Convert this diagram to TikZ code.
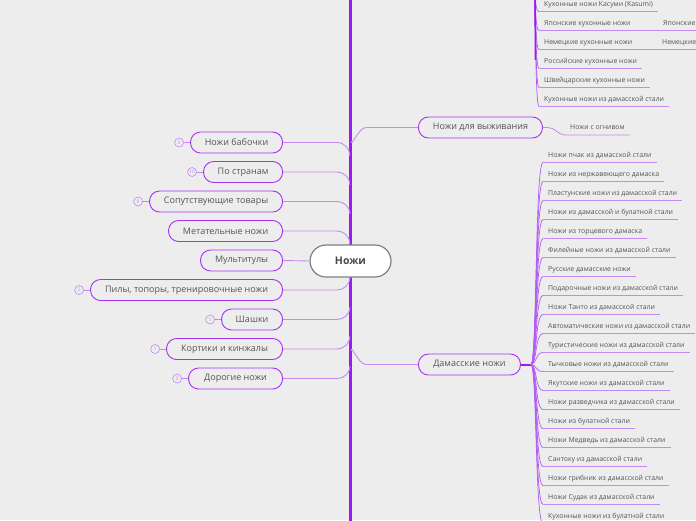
\documentclass[tikz,border=0pt]{standalone}
\usepackage{fontspec}
\setmainfont{Open Sans}
\usetikzlibrary{calc}
\definecolor{bg}{HTML}{EDEDED}
\definecolor{trunkc}{HTML}{9B1AF2}
\definecolor{nodeb}{HTML}{A532F0}
\definecolor{conn}{HTML}{C38AF2}
\definecolor{fanc}{HTML}{B05CF2}
\definecolor{txt}{HTML}{555555}
\definecolor{cgray}{HTML}{808080}
\tikzset{
  topic/.style={draw=nodeb, line width=0.9, rounded corners=10, minimum height=21, inner xsep=0, text=txt, font=\fontsize{9}{10}\selectfont, fill=bg},
  central/.style={draw=cgray, line width=1.2, fill=white, rounded corners=16, minimum width=81, minimum height=32, font=\fontsize{10.5}{12}\selectfont\bfseries, text=txt!85!black},
  item/.style={text=txt, font=\fontsize{6.9}{7.5}\selectfont, inner xsep=5, inner ysep=3.3, text depth=1.8, text height=5.2, anchor=south west},
  badge/.style={circle, draw=conn, line width=0.6, minimum size=9, inner sep=0, text=conn, font=\fontsize{5}{5}\selectfont},
  link/.style={draw=conn, line width=0.9},
  uline/.style={draw=conn, line width=0.8},
  fanline/.style={draw=fanc, line width=0.7},
  trunkline/.style={draw=trunkc, line width=3}
}
\begin{document}
\begin{tikzpicture}[x=1pt,y=-1pt]
\fill[bg] (0,0) rectangle (696,520);
\useasboundingbox (0,0) rectangle (696,520);

% trunk
\draw[trunkline] (350,-5) -- (350,525);

% central node
\node[central] (c) at (350.5,261) {Ножи};

% left topics
\node[topic, minimum width=92, anchor=east] (n1) at (283,142.5) {Ножи бабочки};
\node[topic, minimum width=79, anchor=east] (n2) at (283,172) {По странам};
\node[topic, minimum width=133, anchor=east] (n3) at (283,201.5) {Сопутствующие товары};
\node[topic, minimum width=114, anchor=east] (n4) at (283,231) {Метательные ножи};
\node[topic, minimum width=82, anchor=east] (n5) at (283,260.5) {Мультитулы};
\node[topic, minimum width=192, anchor=east] (n6) at (283,290) {Пилы, топоры, тренировочные ножи};
\node[topic, minimum width=61, anchor=east] (n7) at (283,319.5) {Шашки};
\node[topic, minimum width=116, anchor=east] (n8) at (283,349) {Кортики и кинжалы};
\node[topic, minimum width=94, anchor=east] (n9) at (283,378.5) {Дорогие ножи};

% left connectors
\draw[link] (n1.east) -- (337,142.5) to[out=0,in=90] (350,156);
\draw[link] (n2.east) -- (337,172) to[out=0,in=90] (350,185);
\draw[link] (n3.east) -- (337,201.5) to[out=0,in=90] (350,214);
\draw[link] (n4.east) -- (337,231) to[out=0,in=90] (350,244);
\draw[link] (n5.east) -- (c.west);
\draw[link] (n6.east) -- (337,290) to[out=0,in=-90] (350,277);
\draw[link] (n7.east) -- (337,319.5) to[out=0,in=-90] (350,307);
\draw[link] (n8.east) -- (337,349) to[out=0,in=-90] (350,336);
\draw[link] (n9.east) -- (337,378.5) to[out=0,in=-90] (350,366);

% badges
\node[badge] (b1) at ($(n1.west)+(-11,0)$) {3};
\node[badge] (b2) at ($(n2.west)+(-11,0)$) {10};
\node[badge] (b3) at ($(n3.west)+(-11,0)$) {9};
\node[badge] (b6) at ($(n6.west)+(-11,0)$) {2};
\node[badge] (b7) at ($(n7.west)+(-11,0)$) {1};
\node[badge] (b8) at ($(n8.west)+(-11,0)$) {1};
\node[badge] (b9) at ($(n9.west)+(-11,0)$) {3};
\foreach \b/\n in {b1/n1,b2/n2,b3/n3,b6/n6,b7/n7,b8/n8,b9/n9}
  \draw[link, line width=0.7] (\b) -- (\n.west);

% right topics
\node[topic, minimum width=124, anchor=west] (sv) at (418,127.5) {Ножи для выживания};
\node[topic, minimum width=102, anchor=west] (dm) at (418,364.5) {Дамасские ножи};
\draw[link] (351,141) to[out=-90,in=180] (366,127.5) -- (sv.west);
\draw[link] (351,351) to[out=90,in=180] (366,364.5) -- (dm.west);

% survival child
\node[item] (s1) at (565,135) {Ножи с огнивом};
\draw[uline] (sv.east) -- (548,127.5) to[out=0,in=180] (s1.south west) -- (s1.south east);

% damascus children
\coordinate (df) at (531,364.5);
\draw[trunkc, line width=2] (dm.east) -- (df);
\foreach \yy/\t [count=\i] in {
155/Ножи пчак из дамасской стали,
174/Ножи из нержавеющего дамаска,
193/Пластунские ножи из дамасской стали,
212/Ножи из дамасской и булатной стали,
231/Ножи из торцевого дамаска,
250/Филейные ножи из дамасской стали,
269/Русские дамасские ножи,
288/Подарочные ножи из дамасской стали,
307/Ножи Танто из дамасской стали,
326/Автоматические ножи из дамасской стали,
345/Туристические ножи из дамасской стали,
364/Тычковые ножи из дамасской стали,
383/Якутские ножи из дамасской стали,
402/Ножи разведчика из дамасской стали,
421/Ножи из булатной стали,
440/Ножи Медведь из дамасской стали,
459/Сантоку из дамасской стали,
478/Ножи грибник из дамасской стали,
497/Ножи Судак из дамасской стали,
516/Кухонные ножи из булатной стали}{
  \node[item] (d\i) at (543,\yy+7.5) {\t};
  \draw[fanline] (df) .. controls (537,364.5) and (535,\yy+7.5) .. (d\i.south west);
  \draw[uline] (d\i.south west) -- (d\i.south east);
}

% kitchen children (parent off-canvas above)
\coordinate (kf) at (533,-12);
\foreach \yy/\t [count=\i] in {
4/Кухонные ножи Касуми (Kasumi),
23/Японские кухонные ножи,
42/Немецкие кухонные ножи,
61/Российские кухонные ножи,
80/Швейцарские кухонные ножи,
99/Кухонные ножи из дамасской стали}{
  \node[item] (k\i) at (539,\yy+7.5) {\t};
  \draw[fanline] (kf) .. controls (536,-5) and (535,\yy+7.5) .. (k\i.south west);
  \draw[uline] (k\i.south west) -- (k\i.south east);
}
\draw[trunkc, line width=1.5] (535,-5) -- (535.5,60);

% grandchildren at the edge
\node[item] (j1) at (658,30.5) {Японские};
\node[item] (g1) at (657,49.5) {Немецкие};
\draw[uline] (k2.south east) -- (j1.south west) -- (700,30.5);
\draw[uline] (k3.south east) -- (g1.south west) -- (700,49.5);
\end{tikzpicture}
\end{document}
